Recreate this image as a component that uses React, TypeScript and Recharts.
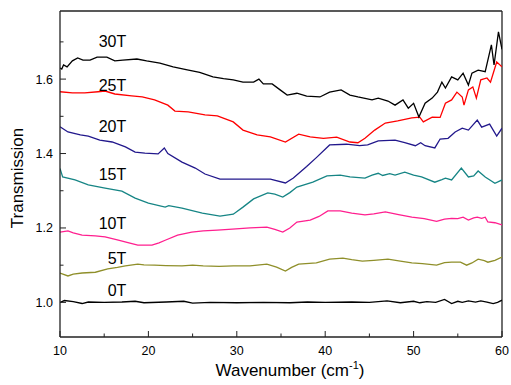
import {
  Line,
  LineChart,
  ReferenceDot,
  ReferenceLine,
  XAxis,
  YAxis,
} from "recharts";

type Pair = [number, number];

const t0: Pair[] = [
  [10, 1.0], [10.5, 1.005], [11.5, 1.002], [12.5, 0.997], [13.2, 1.001], [15, 1.0],
  [17, 1.001], [18.5, 1.003], [19.5, 0.999], [22, 1.001], [24, 1.003], [25, 0.998],
  [27, 1.0], [30, 0.999], [33, 1.0], [36, 0.999], [38, 1.001], [40, 1.0], [43, 1.001],
  [45, 1.0], [47, 1.004], [48.5, 0.999], [50, 1.003], [50.7, 0.999], [51.5, 1.002],
  [52.5, 1.0], [53.5, 1.008], [54.3, 0.997], [55, 1.003], [55.5, 1.0], [56.2, 1.004],
  [57, 1.001], [57.6, 1.004], [58.3, 1.001], [59, 0.997], [59.5, 1.0], [60, 1.006],
];

const t5: Pair[] = [
  [10, 1.079], [10.9, 1.071], [11.5, 1.076], [12.5, 1.079], [14, 1.081], [15.4, 1.09],
  [16.5, 1.094], [17.4, 1.098], [18.8, 1.103], [19.5, 1.101], [20.7, 1.1], [22, 1.099],
  [23.8, 1.098], [25, 1.1], [26.2, 1.098], [28, 1.097], [29.6, 1.098], [31.5, 1.098],
  [33.4, 1.103], [34.5, 1.095], [35.5, 1.084], [36.2, 1.094], [37, 1.103], [39, 1.106],
  [40.5, 1.116], [42, 1.119], [43, 1.115], [44.2, 1.111], [45.5, 1.113], [47.1, 1.116],
  [48.5, 1.111], [49.8, 1.106], [51, 1.104], [52.6, 1.1], [53.5, 1.107], [54.3, 1.108],
  [55.3, 1.108], [56, 1.1], [56.6, 1.106], [57.3, 1.116], [58, 1.112], [58.4, 1.108],
  [59.2, 1.113], [60, 1.122],
];

const t10: Pair[] = [
  [10, 1.189], [10.9, 1.192], [11.5, 1.187], [12.5, 1.181], [14, 1.179], [15.1, 1.176],
  [16.6, 1.167], [17.8, 1.16], [18.8, 1.154], [20.4, 1.154], [21.2, 1.16], [21.9, 1.167],
  [23.3, 1.181], [24.9, 1.189], [26.2, 1.192], [27.8, 1.194], [29.5, 1.197], [31.5, 1.2],
  [33.4, 1.202], [34.3, 1.196], [35.2, 1.189], [36, 1.2], [36.8, 1.216], [38.3, 1.221],
  [39.3, 1.231], [40.3, 1.246], [41.7, 1.246], [43, 1.24], [44.5, 1.235], [45.5, 1.238],
  [46.8, 1.243], [48.3, 1.236], [49.8, 1.229], [51.2, 1.225], [52.6, 1.218], [53.5, 1.224],
  [54.3, 1.226], [55, 1.225], [55.6, 1.229], [56.2, 1.221], [56.8, 1.227], [57.2, 1.229],
  [57.7, 1.226], [58.1, 1.229], [58.4, 1.216], [59.2, 1.214], [60, 1.208],
];

const t15: Pair[] = [
  [10, 1.36], [10.3, 1.337], [11.7, 1.329], [13.2, 1.316], [15.1, 1.307], [17, 1.299],
  [18.5, 1.28], [20, 1.267], [21.9, 1.256], [22.3, 1.26], [23.8, 1.253], [26.1, 1.24],
  [28.1, 1.232], [29.6, 1.237], [30.7, 1.256], [31.9, 1.278], [33.5, 1.294], [34.3, 1.291],
  [35.2, 1.283], [36, 1.295], [36.8, 1.31], [38.6, 1.323], [40.2, 1.34], [41.7, 1.342],
  [42.8, 1.337], [44.5, 1.334], [45.3, 1.342], [46, 1.347], [46.5, 1.341], [47.3, 1.346],
  [47.9, 1.342], [49, 1.35], [50, 1.342], [50.9, 1.337], [52.4, 1.323], [53.2, 1.33],
  [53.6, 1.334], [54.3, 1.329], [55.4, 1.361], [56.2, 1.337], [56.8, 1.34], [57.3, 1.353],
  [58.1, 1.337], [59.2, 1.32], [60, 1.329],
];

const t20: Pair[] = [
  [10, 1.472], [10.9, 1.458], [12.3, 1.45], [13.2, 1.447], [14.5, 1.436], [15.9, 1.431],
  [17.4, 1.418], [18.5, 1.404], [19.6, 1.401], [21.1, 1.399], [21.8, 1.415], [22.2, 1.4],
  [23.8, 1.377], [25.3, 1.361], [26.4, 1.345], [28.1, 1.331], [30.4, 1.331], [32.3, 1.331],
  [33.8, 1.331], [35.5, 1.321], [36.4, 1.334], [37.9, 1.365], [39, 1.389], [40.5, 1.423],
  [42.4, 1.425], [43.9, 1.421], [44.8, 1.423], [46, 1.434], [47.9, 1.436], [49, 1.429],
  [50.2, 1.421], [50.8, 1.429], [51.3, 1.421], [52.4, 1.415], [53, 1.439], [53.9, 1.441],
  [54.7, 1.458], [55.5, 1.468], [56.2, 1.463], [57.2, 1.49], [57.7, 1.471], [58.6, 1.479],
  [59.4, 1.447], [60, 1.468],
];

const t25: Pair[] = [
  [10, 1.566], [11.4, 1.563], [12.8, 1.563], [14.3, 1.566], [15.1, 1.568], [16.2, 1.56],
  [18.1, 1.555], [19.3, 1.552], [20.7, 1.544], [22.2, 1.53], [23, 1.514], [24.5, 1.512],
  [26.4, 1.504], [27.8, 1.501], [29.6, 1.485], [30.7, 1.463], [32.3, 1.45], [33.8, 1.445],
  [35.5, 1.431], [37, 1.452], [38.3, 1.445], [39.8, 1.441], [41.3, 1.444], [42.8, 1.431],
  [43.7, 1.429], [44.5, 1.441], [45.6, 1.463], [46.8, 1.482], [48.2, 1.488], [49.8, 1.496],
  [50.7, 1.498], [51.1, 1.485], [52.1, 1.498], [53, 1.497], [53.6, 1.535], [54.3, 1.544],
  [54.9, 1.565], [55.5, 1.552], [55.7, 1.53], [56.2, 1.571], [56.7, 1.579], [57.1, 1.549],
  [57.6, 1.598], [58.3, 1.603], [58.7, 1.592], [59.4, 1.646], [60, 1.633],
];

const t30: Pair[] = [
  [10, 1.63], [10.2, 1.627], [10.4, 1.638], [10.8, 1.633], [11.4, 1.649], [12, 1.657],
  [12.6, 1.651], [13.4, 1.651], [14.2, 1.659], [15.3, 1.659], [16.2, 1.649], [17.1, 1.651],
  [18.7, 1.654], [19.8, 1.649], [21.3, 1.643], [22.8, 1.633], [24.4, 1.625], [25.8, 1.618],
  [27.3, 1.606], [28.5, 1.601], [29.6, 1.598], [30.7, 1.592], [31.9, 1.592], [32.5, 1.6],
  [33, 1.587], [34, 1.587], [34.9, 1.571], [35.7, 1.557], [36.8, 1.562], [37.9, 1.554],
  [39.4, 1.552], [40.5, 1.565], [41.8, 1.571], [42.8, 1.557], [43.7, 1.552], [45.3, 1.544],
  [46, 1.549], [47.1, 1.541], [47.9, 1.53], [48.8, 1.544], [49.4, 1.522], [50, 1.535],
  [50.6, 1.498], [51.3, 1.535], [52.1, 1.549], [52.7, 1.565], [53.2, 1.592], [53.6, 1.576],
  [54.3, 1.606], [55, 1.598], [55.6, 1.616], [56.2, 1.584], [56.6, 1.616], [57.3, 1.624],
  [58.1, 1.62], [58.8, 1.692], [59.1, 1.638], [59.6, 1.727], [60, 1.68],
];

const seriesNames = ["0T", "5T", "10T", "15T", "20T", "25T", "30T"];
const seriesData = [t0, t5, t10, t15, t20, t25, t30];
const seriesColors = ["#000000", "#8f8f2a", "#ff1f8f", "#168585", "#22188c", "#ff0000", "#000000"];
// where the field labels sit, in data units
const labelAt: Pair[] = [
  [16.45, 1.032], [16.45, 1.119], [15.94, 1.212], [15.94, 1.345],
  [15.94, 1.473], [15.94, 1.584], [15.94, 1.701],
];

const xTicks = [10, 15, 20, 25, 30, 35, 40, 45, 50, 55, 60];
const yTicks = [1.0, 1.1, 1.2, 1.3, 1.4, 1.5, 1.6, 1.7];

const Y_MIN = 0.907;
const Y_MAX = 1.783;
const PLOT_LEFT = 60;
const PLOT_BOTTOM = 337;
const AXIS = "#222";

const XTick = ({ x, payload }: any) => {
  const v = payload.value as number;
  const major = v % 10 === 0;
  return (
    <g>
      <line x1={x} x2={x} y1={PLOT_BOTTOM} y2={PLOT_BOTTOM - (major ? 6 : 3.5)} stroke={AXIS} />
      {major && (
        <text x={x} y={PLOT_BOTTOM + 18} textAnchor="middle" fontSize={12.5} fill="#000">
          {v}
        </text>
      )}
    </g>
  );
};

const YTick = ({ y, payload }: any) => {
  const v = payload.value as number;
  const major = Math.round(v * 10) % 2 === 0;
  return (
    <g>
      <line x1={PLOT_LEFT} x2={PLOT_LEFT + (major ? 6 : 3.5)} y1={y} y2={y} stroke={AXIS} />
      {major && (
        <text x={PLOT_LEFT - 7} y={y + 4.5} textAnchor="end" fontSize={12.5} fill="#000">
          {v.toFixed(1)}
        </text>
      )}
    </g>
  );
};

export default function App() {
  return (
    <div
      style={{
        position: "absolute",
        left: 0,
        top: 0,
        width: 511,
        height: 385,
        background: "#fff",
        fontFamily: '"Liberation Sans", Arial, sans-serif',
      }}
    >
      <LineChart width={511} height={385} margin={{ top: 11, right: 9, bottom: 0, left: 0 }}>
        <XAxis
          dataKey="w"
          type="number"
          domain={[10, 60]}
          ticks={xTicks}
          allowDataOverflow
          height={48}
          tickLine={false}
          axisLine={{ stroke: AXIS, strokeWidth: 1.3 }}
          tick={<XTick />}
          label={{
            content: () => (
              <text x={290} y={376} textAnchor="middle" fontSize={17} fill="#000">
                Wavenumber (cm
                <tspan fontSize={11} dy={-7}>-1</tspan>
                <tspan dy={7}>)</tspan>
              </text>
            ),
          }}
        />
        <YAxis
          type="number"
          domain={[Y_MIN, Y_MAX]}
          ticks={yTicks}
          allowDataOverflow
          width={60}
          tickLine={false}
          axisLine={{ stroke: AXIS, strokeWidth: 1.3 }}
          tick={<YTick />}
          label={{
            content: () => (
              <text
                x={23}
                y={178}
                transform="rotate(-90 23 178)"
                textAnchor="middle"
                fontSize={17}
                fill="#000"
              >
                Transmission
              </text>
            ),
          }}
        />
        <ReferenceLine y={Y_MAX} stroke={AXIS} strokeWidth={1.3} />
        <ReferenceLine x={60} stroke={AXIS} strokeWidth={1.3} />
        {seriesData.map((d, i) => (
          <Line
            key={seriesNames[i]}
            data={d.map(([w, v]) => ({ w, v }))}
            dataKey="v"
            type="linear"
            stroke={seriesColors[i]}
            strokeWidth={1.3}
            dot={false}
            isAnimationActive={false}
          />
        ))}
        {seriesNames.map((name, i) => (
          <ReferenceDot
            key={name}
            x={labelAt[i][0]}
            y={labelAt[i][1]}
            r={0}
            fill="none"
            stroke="none"
            label={{ value: name, position: "center", fontSize: 16, fill: "#000" }}
          />
        ))}
      </LineChart>
    </div>
  );
}
